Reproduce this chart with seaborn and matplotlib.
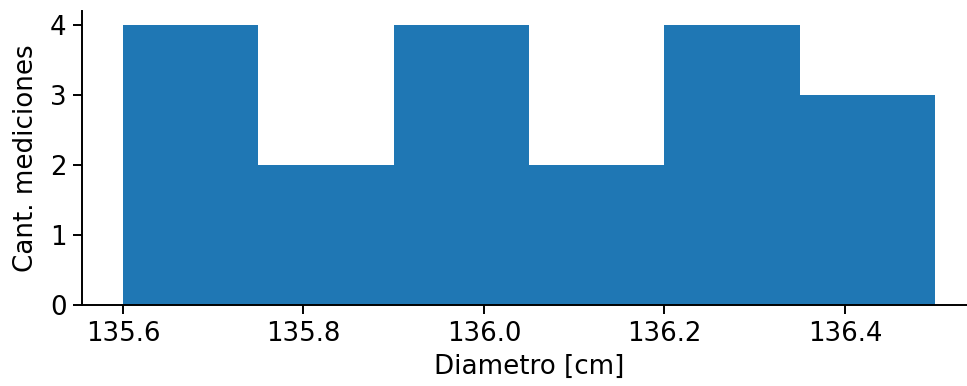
import numpy as np
import pandas as pd
import matplotlib
matplotlib.use("Agg")
import matplotlib.pyplot as plt
import seaborn as sns

# Histogram of diameter measurements
bin_edges = [135.6, 135.75, 135.9, 136.05, 136.2, 136.35, 136.5]
counts = [4, 2, 4, 2, 4, 3]
xticks = [135.6, 135.8, 136.0, 136.2, 136.4]
yticks = [0, 1, 2, 3, 4]

edges = np.array(bin_edges)
df = pd.DataFrame({
    "diametro": (edges[:-1] + edges[1:]) / 2,
    "n": counts,
})

sns.set_style("ticks")
plt.rcParams["font.family"] = ["DejaVu Sans"]
plt.rcParams["text.color"] = "black"
plt.rcParams["axes.labelcolor"] = "black"
plt.rcParams["xtick.color"] = "black"
plt.rcParams["ytick.color"] = "black"

W, H = 967, 386
fig = plt.figure(figsize=(W / 100, H / 100), dpi=100)
ax = fig.add_axes([82.4 / W, (H - 305) / H, 893.4 / W, 294 / H])

sns.histplot(data=df, x="diametro", weights="n", bins=bin_edges,
             color="#1f77b4", alpha=1, linewidth=0, ax=ax)

ax.set_xlim(135.555, 136.545)
ax.set_ylim(0, 4.2)
ax.set_xticks(xticks)
ax.set_xticklabels([f"{t:.1f}" for t in xticks])
ax.set_yticks(yticks)
ax.set_xlabel("Diametro [cm]", fontsize=18.8, labelpad=5)
ax.set_ylabel("Cant. mediciones", fontsize=18.8, labelpad=8)
ax.tick_params(axis="both", labelsize=18.7, length=6.5, width=1.4,
               color="black", labelcolor="black", pad=5)
for s in ax.spines.values():
    s.set_linewidth(1.4)
    s.set_color("black")
sns.despine(ax=ax)

fig.savefig("out.png", dpi=100)
